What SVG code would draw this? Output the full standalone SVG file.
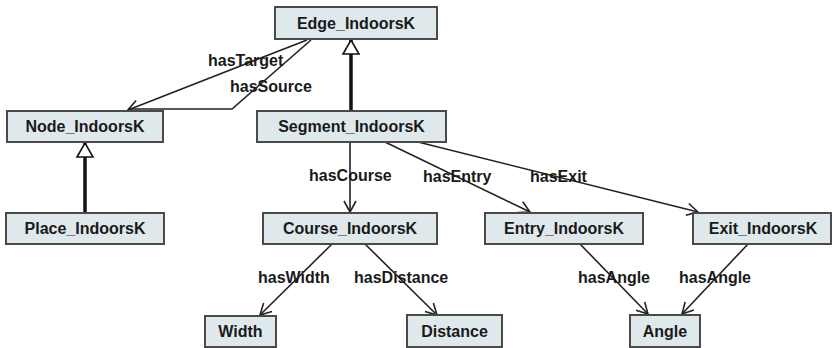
<svg xmlns="http://www.w3.org/2000/svg" width="832" height="348" viewBox="0 0 832 348">
<style>
.box{fill:#dfe9ec;stroke:#4a4a4a;stroke-width:2}
.nt{font-family:"Liberation Sans",Arial,sans-serif;font-weight:bold;font-size:16px;fill:#1a1a1a;text-anchor:middle}
.lt{font-family:"Liberation Sans",Arial,sans-serif;font-weight:bold;font-size:16px;fill:#1a1a1a}
.ln{fill:none;stroke:#222;stroke-width:1.6}
.gen{fill:none;stroke:#111;stroke-width:3.5}
</style>
<defs>
<marker id="arr" markerUnits="userSpaceOnUse" markerWidth="12" markerHeight="12" refX="11" refY="6" orient="auto" overflow="visible">
<path d="M0,0 L11,6 L0,12" fill="none" stroke="#222" stroke-width="1.6"/>
</marker>
<marker id="tri" markerUnits="userSpaceOnUse" markerWidth="16" markerHeight="18" refX="14" refY="8" orient="auto" overflow="visible">
<path d="M0,0 L14,8 L0,16 Z" fill="#fff" stroke="#111" stroke-width="1.6"/>
</marker>
</defs>
<g id="connectors">
<line class="gen" x1="351" y1="111" x2="351" y2="40" marker-end="url(#tri)"/>
<line class="gen" x1="85" y1="213" x2="85" y2="143" marker-end="url(#tri)"/>
<line class="ln" x1="307" y1="40" x2="128" y2="110" marker-end="url(#arr)"/>
<polyline class="ln" points="311,40 232,109 128,109"/>
<line class="ln" x1="350" y1="142" x2="350" y2="212" marker-end="url(#arr)"/>
<line class="ln" x1="385" y1="142" x2="530" y2="212" marker-end="url(#arr)"/>
<line class="ln" x1="418" y1="142" x2="698" y2="212" marker-end="url(#arr)"/>
<line class="ln" x1="332" y1="244" x2="260" y2="315" marker-end="url(#arr)"/>
<line class="ln" x1="365" y1="244" x2="437" y2="315" marker-end="url(#arr)"/>
<line class="ln" x1="580" y1="244" x2="648" y2="314" marker-end="url(#arr)"/>
<line class="ln" x1="748" y1="244" x2="682" y2="314" marker-end="url(#arr)"/>
<text class="lt" x="208" y="66">hasTarget</text>
<text class="lt" x="230" y="92">hasSource</text>
<text class="lt" x="309" y="181">hasCourse</text>
<text class="lt" x="423" y="182">hasEntry</text>
<text class="lt" x="530" y="182">hasExit</text>
<text class="lt" x="258" y="283">hasWidth</text>
<text class="lt" x="354" y="283">hasDistance</text>
<text class="lt" x="578" y="283">hasAngle</text>
<text class="lt" x="679" y="283">hasAngle</text>
</g>
<g id="edge"><rect class="box" x="275" y="7" width="162" height="32"/><text class="nt" x="356" y="29">Edge_IndoorsK</text></g>
<g id="node"><rect class="box" x="7" y="111" width="156" height="31"/><text class="nt" x="85" y="132">Node_IndoorsK</text></g>
<g id="segment"><rect class="box" x="257" y="111" width="189" height="31"/><text class="nt" x="351.5" y="132">Segment_IndoorsK</text></g>
<g id="place"><rect class="box" x="6" y="213" width="158" height="31"/><text class="nt" x="85" y="234">Place_IndoorsK</text></g>
<g id="course"><rect class="box" x="263" y="213" width="174" height="31"/><text class="nt" x="350" y="234">Course_IndoorsK</text></g>
<g id="entry"><rect class="box" x="485" y="213" width="158" height="31"/><text class="nt" x="564" y="234">Entry_IndoorsK</text></g>
<g id="exit"><rect class="box" x="693" y="213" width="138" height="31"/><text class="nt" x="763" y="234">Exit_IndoorsK</text></g>
<g id="width"><rect class="box" x="205" y="316" width="71" height="31"/><text class="nt" x="240.5" y="337">Width</text></g>
<g id="distance"><rect class="box" x="407" y="315" width="95" height="32"/><text class="nt" x="454.5" y="337">Distance</text></g>
<g id="angle"><rect class="box" x="630" y="315" width="70" height="32"/><text class="nt" x="665" y="337">Angle</text></g>
</svg>
